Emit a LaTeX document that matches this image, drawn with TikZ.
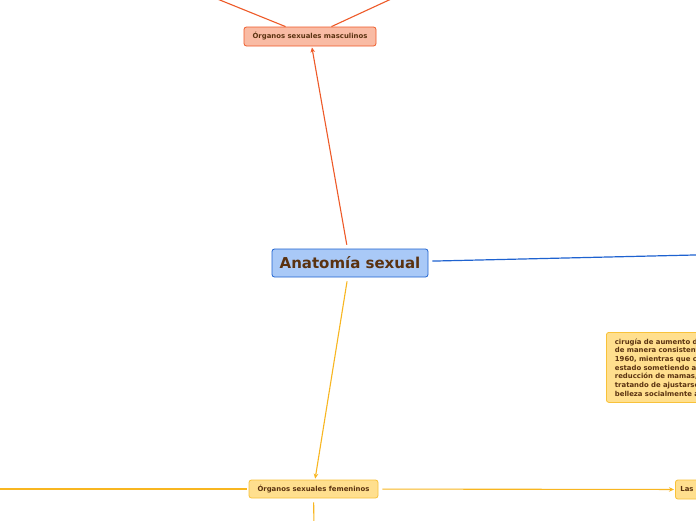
\documentclass[tikz,border=0pt]{standalone}
\usepackage{fontspec}
\setmainfont{DejaVu Sans}
\usetikzlibrary{arrows.meta}
\definecolor{txt}{HTML}{5A3210}
\definecolor{redline}{HTML}{EE5A28}
\definecolor{mascfill}{HTML}{F9BBA4}
\definecolor{bluefill}{HTML}{A9C9F7}
\definecolor{blueline}{HTML}{1E62D0}
\definecolor{yline}{HTML}{F8B620}
\definecolor{yfill}{HTML}{FFDF8E}
\definecolor{yborder}{HTML}{F8C23A}
\tikzset{
  base/.style={rounded corners=2.5pt, text=txt, font=\fontsize{6.9}{8.7}\selectfont\bfseries, inner sep=0pt},
  mascbox/.style={base, fill=mascfill, draw=redline, line width=0.8pt},
  centralbox/.style={base, fill=bluefill, draw=blueline, line width=0.8pt, font=\fontsize{15}{17}\selectfont\bfseries},
  fembox/.style={base, fill=yfill, draw=yborder, line width=0.8pt},
  redconn/.style={draw=redline, line width=1.1pt},
  blueconn/.style={draw=blueline, line width=1.2pt},
  yconn/.style={draw=yline, line width=1.1pt},
  tip/.style={-{Stealth[length=5pt,width=4.5pt]}},
}
\begin{document}
\begin{tikzpicture}[x=1pt,y=1pt]
\useasboundingbox (0,0) rectangle (696,-520);
\clip (0,0) rectangle (696,-520);
\fill[white] (0,0) rectangle (696,-520);

% nodes
\node[mascbox, minimum width=132pt, minimum height=19pt] (masc) at (310,-36.5) {Órganos sexuales masculinos};
\node[centralbox, minimum width=156pt, minimum height=28pt] (central) at (350,-263) {Anatomía sexual};
\node[fembox, minimum width=129pt, minimum height=18pt] (fem) at (313.5,-489) {Órganos sexuales femeninos};
\node[fembox, anchor=west, minimum width=60pt, minimum height=19pt, text width=50pt, align=left] (las) at (675,-489.5) {Las};
\node[fembox, anchor=north west, minimum height=70pt, text width=110pt, inner xsep=8.5pt, inner ysep=5pt, align=left] (cir) at (606,-332)
 {cirugía de aumento de\\de manera consistente\\1960, mientras que c\\estado sometiendo a\\reducción de mamas,\\tratando de ajustarse\\belleza socialmente a};

% free ends
\coordinate (mtl) at (205,6);
\coordinate (mtr) at (402,6);
\coordinate (bright) at (720,-254.4);
\coordinate (fleft) at (-10,-489);
\coordinate (fdown) at (314,-530);

% connectors
\draw[redconn, tip, shorten <=4pt, shorten >=1pt] (central) -- (masc);
\draw[redconn] (masc) -- (mtl);
\draw[redconn] (masc) -- (mtr);
\draw[blueconn, shorten <=4pt] (central) -- (bright);
\draw[yconn, tip, shorten <=4pt, shorten >=1pt] (central) -- (fem);
\draw[yconn, shorten <=2pt] (fem) -- (fleft);
\draw[yconn, tip, shorten <=4pt, shorten >=1pt] (fem) -- (las);
\draw[yconn, shorten <=4pt] (fem) -- (fdown);
\end{tikzpicture}
\end{document}
